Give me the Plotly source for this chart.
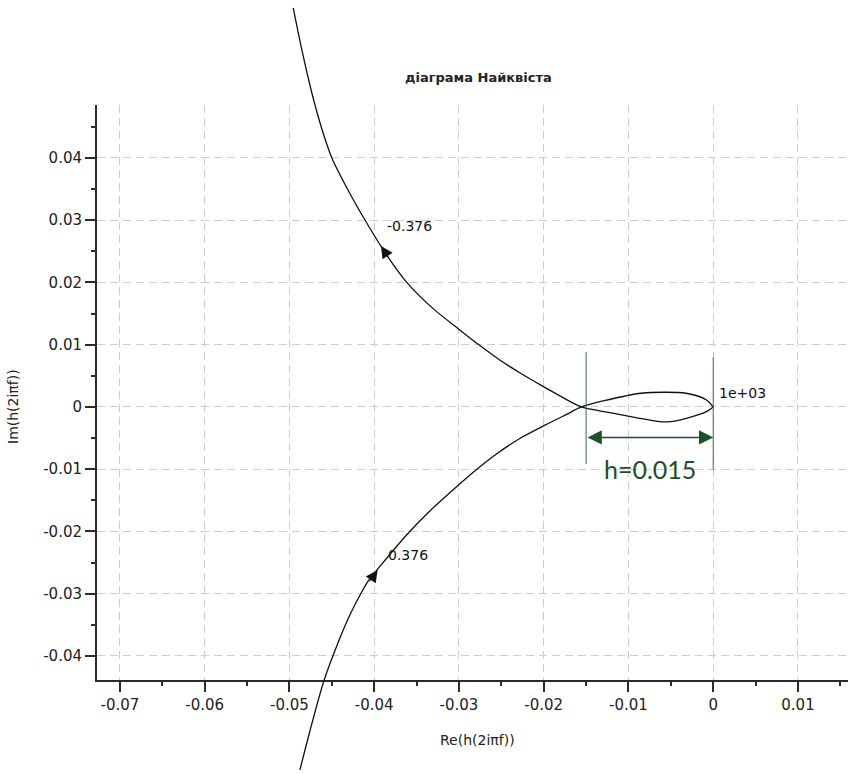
import plotly.graph_objects as go

# ---- Nyquist curve, read as (Re, Im) pairs ----
# branch for negative frequencies: from the origin (f = -1e3) out to the upper left
neg_re = [0.0, -0.0008, -0.00316, -0.0051, -0.0063, -0.00867, -0.0122, -0.01554,
          -0.01798, -0.02034, -0.02282, -0.02518, -0.02753, -0.02998, -0.03304,
          -0.03618, -0.03838, -0.04086, -0.04298, -0.04499, -0.04617, -0.04735,
          -0.04853, -0.04955]
neg_im = [0.0, -0.00075, -0.00182, -0.00236, -0.00236, -0.00182, -0.00092, 0.0,
          0.00170, 0.00350, 0.00549, 0.00755, 0.00986, 0.01245, 0.01579,
          0.02006, 0.02411, 0.02951, 0.03457, 0.03999, 0.04465, 0.05043,
          0.05734, 0.06410]

# branch for positive frequencies: from the lower left into the origin (f = 1e3)
pos_re = [-0.04876, -0.04758, -0.04590, -0.04404, -0.04287, -0.04160, -0.04062,
          -0.03933, -0.03618, -0.03343, -0.02998, -0.02792, -0.02557, -0.02282,
          -0.01991, -0.01731, -0.01554, -0.0130, -0.0085, -0.0032, -0.0008, 0.0]
pos_im = [-0.05831, -0.05205, -0.04386, -0.03711, -0.03341, -0.03004, -0.02779,
          -0.02562, -0.02056, -0.01671, -0.01245, -0.01004, -0.00755, -0.00506,
          -0.00297, -0.00120, 0.0, 0.00096, 0.0022, 0.0022, 0.00112, 0.0]

# direction arrows on the curve (tip, tail) and frequency labels
arrow_tip_re = [-0.03919, -0.03959]
arrow_tip_im = [0.02586, -0.02619]
arrow_tail_re = [-0.03820, -0.04066]
arrow_tail_im = [0.02377, -0.02827]

freq_labels = ["-0.376", "0.376", "1e+03"]
freq_label_re = [-0.0387, -0.0386, 0.0004]
freq_label_im = [0.0290, -0.0238, 0.0023]

# measured distance from the real-axis crossing to the origin
h = 0.015

# axis ticks
x_tick_vals = [-0.07, -0.06, -0.05, -0.04, -0.03, -0.02, -0.01, 0.0, 0.01]
x_tick_text = ["-0.07", "-0.06", "-0.05", "-0.04", "-0.03", "-0.02", "-0.01", "0", "0.01"]
y_tick_vals = [-0.04, -0.03, -0.02, -0.01, 0.0, 0.01, 0.02, 0.03, 0.04]
y_tick_text = ["-0.04", "-0.03", "-0.02", "-0.01", "0", "0.01", "0.02", "0.03", "0.04"]

# ---- layout geometry ----
W, H = 852, 773
BOX_L, BOX_R, BOX_T, BOX_B = 97, 848, 105, 680
X_MIN, X_MAX = -0.0727, 0.0159
Y_MIN, Y_MAX = -0.04386, 0.0485

sx = (BOX_R - BOX_L) / (X_MAX - X_MIN)
sy = (BOX_B - BOX_T) / (Y_MAX - Y_MIN)
# an invisible full-page axis pair with the same scale, so the curve may run past the frame
full_x = [X_MIN - BOX_L / sx, X_MAX + (W - BOX_R) / sx]
full_y = [Y_MIN - (H - BOX_B) / sy, Y_MAX + BOX_T / sy]

FONT = "DejaVu Sans"
INK = "#2b2b2b"
GREEN = "#1c4f2a"

fig = go.Figure()

for re_vals, im_vals in ((neg_re, neg_im), (pos_re, pos_im)):
    fig.add_trace(go.Scatter(
        x=re_vals, y=im_vals, mode="lines",
        line=dict(color="#111111", width=1.3, shape="spline", smoothing=0.8),
        xaxis="x2", yaxis="y2", hoverinfo="skip",
    ))

axis_common = dict(
    showline=True, linecolor=INK, linewidth=2,
    ticks="outside", ticklen=10, tickwidth=2, tickcolor=INK,
    showgrid=True, gridcolor="#cccccc", gridwidth=1, griddash="8px,5px",
    zeroline=False, mirror=False,
    tickfont=dict(family=FONT, size=15, color="#222222"),
    minor=dict(ticks="outside", ticklen=4, tickwidth=2, tickcolor=INK,
               dtick=0.005, tick0=0, showgrid=False),
)

fig.update_layout(
    width=W, height=H,
    margin=dict(l=0, r=0, t=0, b=0),
    paper_bgcolor="white", plot_bgcolor="rgba(0,0,0,0)",
    showlegend=False,
    xaxis=dict(domain=[BOX_L / W, BOX_R / W], range=[X_MIN, X_MAX], anchor="y",
               tickmode="array", tickvals=x_tick_vals, ticktext=x_tick_text,
               **axis_common),
    yaxis=dict(domain=[1 - BOX_B / H, 1 - BOX_T / H], range=[Y_MIN, Y_MAX], anchor="x",
               tickmode="array", tickvals=y_tick_vals, ticktext=y_tick_text,
               **axis_common),
    xaxis2=dict(domain=[0, 1], range=full_x, anchor="y2", visible=False),
    yaxis2=dict(domain=[0, 1], range=full_y, anchor="x2", visible=False),
)

annotations = []

# title and axis titles
annotations.append(dict(text="діаграма Найквіста", xref="paper", yref="paper",
                        x=478 / W, y=1 - 77 / H, showarrow=False,
                        xanchor="center", yanchor="middle",
                        font=dict(family=FONT, size=13, color="#222222", weight="bold")))
annotations.append(dict(text="Re(h(2iπf))", xref="paper", yref="paper",
                        x=477 / W, y=1 - 740 / H, showarrow=False,
                        xanchor="center", yanchor="middle",
                        font=dict(family=FONT, size=14, color="#222222")))
annotations.append(dict(text="Im(h(2iπf))", xref="paper", yref="paper",
                        x=13 / W, y=1 - 407 / H, showarrow=False, textangle=-90,
                        xanchor="center", yanchor="middle",
                        font=dict(family=FONT, size=14, color="#222222")))

# direction arrowheads along the curve
for tx, ty, bx, by in zip(arrow_tip_re, arrow_tip_im, arrow_tail_re, arrow_tail_im):
    annotations.append(dict(x=tx, y=ty, ax=bx, ay=by, xref="x", yref="y",
                            axref="x", ayref="y", text="", showarrow=True,
                            arrowhead=2, arrowsize=2.4, arrowwidth=1,
                            arrowcolor="#111111"))

# frequency labels
for txt, lx, ly in zip(freq_labels, freq_label_re, freq_label_im):
    annotations.append(dict(text=txt, x=lx, y=ly, xref="x", yref="y",
                            showarrow=False, xanchor="left", yanchor="middle",
                            font=dict(family=FONT, size=14, color="#111111")))

# dimension arrow for h
annotations.append(dict(x=0.0, y=-0.0049, ax=-h, ay=-0.0049, xref="x", yref="y",
                        axref="x", ayref="y", text="", showarrow=True,
                        arrowhead=2, startarrowhead=2, arrowside="end+start",
                        arrowsize=1.9, startarrowsize=1.9, arrowwidth=1.5,
                        arrowcolor=GREEN))
annotations.append(dict(text=f"h={h}", x=-h / 2, y=-0.0099, xref="x", yref="y",
                        showarrow=False, xanchor="center", yanchor="middle",
                        font=dict(family="Lato", size=25, color=GREEN)))

fig.update_layout(annotations=annotations)

# extension lines of the dimension
fig.add_shape(type="line", xref="x", yref="y", x0=-h, x1=-h, y0=0.0088, y1=-0.0092,
              line=dict(color="#3b6e48", width=1), layer="above")
fig.add_shape(type="line", xref="x", yref="y", x0=0.0, x1=0.0, y0=0.0080, y1=-0.0101,
              line=dict(color="#3b6e48", width=1), layer="above")

fig.write_html("out.html")
